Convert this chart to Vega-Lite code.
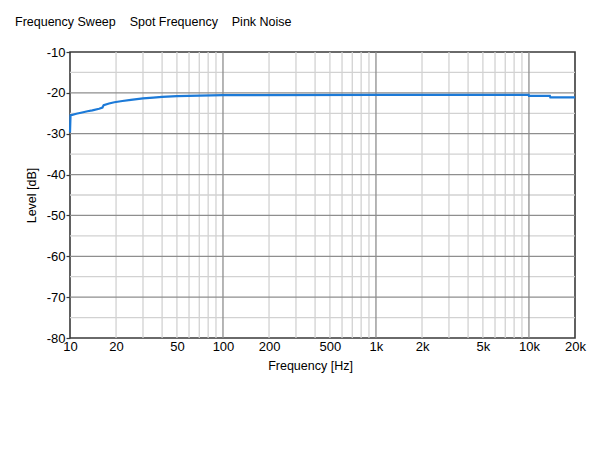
{
  "$schema": "https://vega.github.io/schema/vega-lite/v6.json",
  "autosize": "none",
  "width": 505,
  "height": 286,
  "padding": {"left": 70, "top": 52, "right": 26, "bottom": 130},
  "background": "white",
  "title": {
    "text": "Frequency Sweep\u00a0\u00a0\u00a0\u00a0Spot Frequency\u00a0\u00a0\u00a0\u00a0Pink Noise",
    "anchor": "start",
    "frame": "group",
    "dx": -55,
    "offset": 18,
    "font": "Liberation Sans",
    "fontSize": 12.5,
    "fontWeight": "normal",
    "color": "#000000"
  },
  "config": {
    "view": {"stroke": "#3a3a3a", "strokeWidth": 1.6},
    "axis": {"labelFont": "Liberation Sans", "titleFont": "Liberation Sans", "labelColor": "#000000", "titleColor": "#000000", "titleFontWeight": "normal"}
  },
  "datasets": {
    "curve": [
      {"f": 10, "db": -29.7},
      {"f": 10.08, "db": -25.5},
      {"f": 11, "db": -25.1},
      {"f": 12, "db": -24.8},
      {"f": 13, "db": -24.5},
      {"f": 14, "db": -24.3},
      {"f": 15.5, "db": -23.9},
      {"f": 16.3, "db": -23.6},
      {"f": 16.6, "db": -23.0},
      {"f": 18, "db": -22.6},
      {"f": 19.5, "db": -22.3},
      {"f": 22, "db": -22.0},
      {"f": 25, "db": -21.7},
      {"f": 30, "db": -21.35},
      {"f": 35, "db": -21.15},
      {"f": 40, "db": -21.0},
      {"f": 50, "db": -20.8},
      {"f": 70, "db": -20.7},
      {"f": 100, "db": -20.55},
      {"f": 1000, "db": -20.5},
      {"f": 9950, "db": -20.5},
      {"f": 10000, "db": -20.75},
      {"f": 13700, "db": -20.75},
      {"f": 13800, "db": -21.1},
      {"f": 20000, "db": -21.1}
    ],
    "vminor": [
      {"f": 20}, {"f": 30}, {"f": 40}, {"f": 50}, {"f": 60}, {"f": 70}, {"f": 80}, {"f": 90},
      {"f": 200}, {"f": 300}, {"f": 400}, {"f": 500}, {"f": 600}, {"f": 700}, {"f": 800}, {"f": 900},
      {"f": 2000}, {"f": 3000}, {"f": 4000}, {"f": 5000}, {"f": 6000}, {"f": 7000}, {"f": 8000}, {"f": 9000}
    ],
    "vmajor": [{"f": 100}, {"f": 1000}, {"f": 10000}],
    "hminor": [{"db": -15}, {"db": -25}, {"db": -35}, {"db": -45}, {"db": -55}, {"db": -65}, {"db": -75}],
    "hmajor": [{"db": -20}, {"db": -30}, {"db": -40}, {"db": -50}, {"db": -60}, {"db": -70}]
  },
  "layer": [
    {
      "data": {"name": "vminor"},
      "mark": {"type": "rule", "color": "#d2d2d2", "strokeWidth": 1.3},
      "encoding": {
        "x": {
          "field": "f", "type": "quantitative", "scale": {"type": "log", "domain": [10, 20000], "nice": false},
          "axis": {
            "values": [10, 20, 50, 100, 200, 500, 1000, 2000, 5000, 10000, 20000],
            "labelExpr": "datum.value >= 1000 ? (datum.value / 1000) + 'k' : datum.value + ''",
            "grid": false, "ticks": false, "domain": false,
            "labelFlush": false, "labelOverlap": false, "labelBound": false,
            "labelFontSize": 13, "labelPadding": 2,
            "title": "Frequency [Hz]", "titleFontSize": 12.5,
            "titleX": 240, "titleY": 27, "titleBaseline": "middle", "titleAlign": "center"
          }
        }
      }
    },
    {
      "data": {"name": "hminor"},
      "mark": {"type": "rule", "color": "#d2d2d2", "strokeWidth": 1.3},
      "encoding": {
        "y": {
          "field": "db", "type": "quantitative", "scale": {"domain": [-80, -10], "nice": false, "zero": false},
          "axis": {
            "values": [-80, -70, -60, -50, -40, -30, -20, -10],
            "labelExpr": "'-' + abs(datum.value)",
            "grid": false, "domain": false,
            "ticks": true, "tickSize": 4, "tickColor": "#3a3a3a", "tickWidth": 1.2,
            "labelFontSize": 13, "labelPadding": 1, "labelOverlap": false, "labelFlush": false,
            "title": "Level [dB]", "titleFontSize": 12.5,
            "titleAngle": -90, "titleX": -39, "titleY": 143, "titleBaseline": "middle", "titleAlign": "center"
          }
        }
      }
    },
    {
      "data": {"name": "vmajor"},
      "mark": {"type": "rule", "color": "#8e8e8e", "strokeWidth": 1.3},
      "encoding": {
        "x": {"field": "f", "type": "quantitative", "title": "Frequency [Hz]"}
      }
    },
    {
      "data": {"name": "hmajor"},
      "mark": {"type": "rule", "color": "#8e8e8e", "strokeWidth": 1.3},
      "encoding": {
        "y": {"field": "db", "type": "quantitative", "title": "Level [dB]"}
      }
    },
    {
      "data": {"name": "curve"},
      "mark": {"type": "line", "color": "#1c7ad8", "strokeWidth": 2.2, "interpolate": "linear"},
      "encoding": {
        "x": {"field": "f", "type": "quantitative", "title": "Frequency [Hz]"},
        "y": {"field": "db", "type": "quantitative", "title": "Level [dB]"}
      }
    }
  ]
}
